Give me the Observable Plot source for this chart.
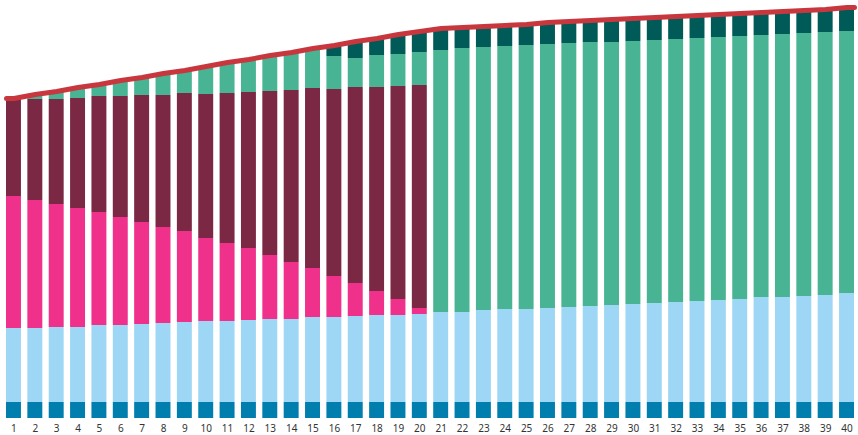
<!DOCTYPE html>
<html>
<head>
<meta charset="utf-8">
<script src="https://cdn.jsdelivr.net/npm/d3@7"></script>
<script src="https://cdn.jsdelivr.net/npm/@observablehq/plot@0.6"></script>
<style>
  html, body { margin: 0; padding: 0; background: #fff; }
  #chart svg { display: block; }
</style>
</head>
<body>
<div id="chart"></div>
<script>
const bars = d3.range(1, 41);

// stacked series, bottom to top
const seriesA = [16,16,16,16,16,16,16,16,16,16,16,16,16,16,16,16,16,16,16,16,16,16,16,16,16,16,16,16,16,16,16,16,16,16,16,16,16,16,16,16];
const seriesB = [74,74,75,75,77,77,78,79,80,81,81,82,83,83,85,85,86,87,87,88,90,90,92,93,93,94,95,96,97,98,99,100,101,102,103,105,105,106,107,109];
const seriesC = [132,128,123,119,113,108,102,96,91,83,78,72,64,57,49,41,33,24,16,6,0,0,0,0,0,0,0,0,0,0,0,0,0,0,0,0,0,0,0,0];
const seriesD = [97,101,105,110,116,121,127,132,138,144,150,156,164,172,180,187,196,204,213,223,0,0,0,0,0,0,0,0,0,0,0,0,0,0,0,0,0,0,0,0];
const seriesE = [1,5,8,11,12,16,18,22,23,28,31,33,36,38,40,33,29,32,32,33,262,264,263,263,264,264,264,264,263,263,263,263,263,263,263,262,263,263,263,262];
const seriesF = [0,0,0,0,0,0,0,0,0,0,0,0,0,0,0,11,17,17,20,21,22,21,21,21,21,22,22,22,23,23,23,23,23,23,23,23,23,23,23,24];

const seriesNames = ["s1", "s2", "s3", "s4", "s5", "s6"];
const seriesValues = [seriesA, seriesB, seriesC, seriesD, seriesE, seriesF];
const seriesColors = ["#007eae", "#9dd7f5", "#ef318b", "#7b2844", "#49b494", "#005a58"];

const halfBar = 0.35;

const rows = [];
const totals = [];
bars.forEach((b, k) => {
  let acc = 0;
  seriesNames.forEach((s, j) => {
    const v = seriesValues[j][k];
    if (v > 0) {
      rows.push({bar: b, series: s, y1: acc, y2: acc + v});
      acc += v;
    }
  });
  totals.push(acc);
});

const lineData = bars.map((b, k) => ({x: b, y: totals[k]}));
lineData.unshift({x: bars[0] - halfBar, y: totals[0]});
lineData.push({x: bars[bars.length - 1] + halfBar, y: totals[totals.length - 1]});

const chart = Plot.plot({
  width: 858,
  height: 435,
  marginTop: 0,
  marginBottom: 17,
  marginLeft: 6,
  marginRight: 4,
  x: {type: "linear", domain: [1 - halfBar, 40 + halfBar], axis: null},
  y: {domain: [0, 418], axis: null},
  color: {type: "ordinal", domain: seriesNames, range: seriesColors},
  style: {fontFamily: "'Noto Sans', sans-serif", background: "#fff"},
  marks: [
    Plot.rectY(rows, {
      x1: d => d.bar - halfBar,
      x2: d => d.bar + halfBar,
      y1: "y1",
      y2: "y2",
      fill: "series"
    }),
    Plot.line(lineData, {
      x: "x",
      y: "y",
      stroke: "#c9373e",
      strokeWidth: 5,
      strokeLinecap: "round",
      strokeLinejoin: "round"
    }),
    Plot.axisX(bars, {
      tickSize: 0,
      tickPadding: 6,
      tickFormat: d => String(d),
      fontSize: 10,
      fill: "#333",
      label: null
    })
  ]
});

document.getElementById("chart").appendChild(chart);
</script>
</body>
</html>
